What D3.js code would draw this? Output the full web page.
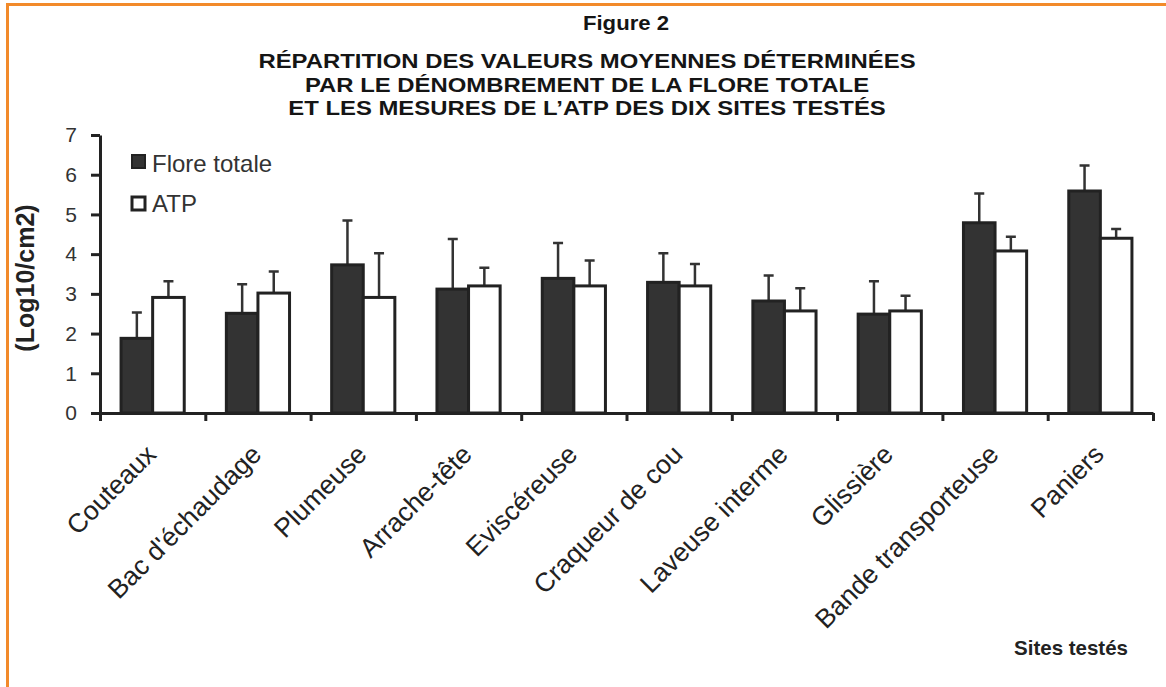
<!DOCTYPE html>
<html><head><meta charset="utf-8">
<script src="https://cdn.jsdelivr.net/npm/d3@7"></script>
<style>body{margin:0;background:#fff}svg{display:block}</style>
</head><body><svg id="c" width="1166" height="687"></svg>
<script>
const categories = ["Couteaux","Bac d'échaudage","Plumeuse","Arrache-tête","Eviscéreuse","Craqueur de cou","Laveuse interme","Glissière","Bande transporteuse","Paniers"];
const series = ["Flore totale","ATP"];
const floreValues = [1.88, 2.51, 3.73, 3.12, 3.39, 3.29, 2.82, 2.49, 4.79, 5.59];
const floreErrors = [0.65, 0.73, 1.12, 1.26, 0.89, 0.73, 0.64, 0.83, 0.74, 0.64];
const atpValues = [2.91, 3.02, 2.91, 3.20, 3.20, 3.20, 2.57, 2.57, 4.08, 4.40];
const atpErrors = [0.41, 0.54, 1.11, 0.46, 0.64, 0.55, 0.57, 0.38, 0.36, 0.23];
const yTicks = [0,1,2,3,4,5,6,7];
const titleLines = ["RÉPARTITION DES VALEURS MOYENNES DÉTERMINÉES","PAR LE DÉNOMBREMENT DE LA FLORE TOTALE","ET LES MESURES DE L’ATP DES DIX SITES TESTÉS"];
const figureLabel = "Figure 2";
const yTitle = "(Log10/cm2)";
const xTitle = "Sites testés";

const FONT = "Liberation Sans, Arial, Helvetica, sans-serif";
const svg = d3.select("#c").style("font-family", FONT);

svg.append("path").attr("d","M7.5,687 V4.5 H1166").attr("fill","none")
  .attr("stroke","#f28a2a").attr("stroke-width",3);

const x0 = d3.scaleBand().domain(categories).range([100,1153]).paddingInner(0.4).paddingOuter(0.2);
const x1 = d3.scaleBand().domain(series).range([0, x0.bandwidth()]);
const xb = d3.scaleLinear().domain([0, categories.length]).range([100,1153]);
const y = d3.scaleLinear().domain([0,7]).range([413,135]);

// title (slightly wide bold face, as in the original print)
svg.append("g").attr("transform","translate(626,30) scale(1.08,1)")
  .append("text").attr("text-anchor","middle")
  .attr("font-weight","bold").attr("font-size",20.5).attr("fill","#151515").text(figureLabel);
titleLines.forEach((t,i)=>{
  svg.append("g").attr("transform",`translate(587,${68+i*23.5}) scale(1.165,1)`)
    .append("text").attr("text-anchor","middle")
    .attr("font-weight","bold").attr("font-size",20.5).attr("fill","#151515").text(t);
});

// bars
const rows = categories.map((c,i)=>({c, vals:[
  {s:series[0], v:floreValues[i], e:floreErrors[i]},
  {s:series[1], v:atpValues[i], e:atpErrors[i]}]}));
const fills = {"Flore totale":"#333333","ATP":"#ffffff"};

const g = svg.selectAll("g.grp").data(rows).join("g").attr("class","grp")
  .attr("transform", d=>`translate(${x0(d.c)},0)`);
g.selectAll("path.err").data(d=>d.vals).join("path").attr("class","err")
  .attr("d", d=>{const cx=x1(d.s)+x1.bandwidth()/2; const t=y(d.v+d.e);
     return `M${cx},${y(d.v)}V${t}M${cx-5},${t}H${cx+5}`;})
  .attr("stroke","#333").attr("stroke-width",2.5).attr("fill","none");
g.selectAll("rect").data(d=>d.vals).join("rect")
  .attr("x", d=>x1(d.s)).attr("width", x1.bandwidth())
  .attr("y", d=>y(d.v)).attr("height", d=>y(0)-y(d.v))
  .attr("fill", d=>fills[d.s]).attr("stroke","#222").attr("stroke-width",3);

// y axis
const ya = svg.append("g").attr("transform","translate(100,0)")
  .call(d3.axisLeft(y).tickValues(yTicks).tickFormat(d3.format("d")).tickSize(9).tickSizeOuter(0).tickPadding(14));
ya.select(".domain").attr("stroke","#222").attr("stroke-width",3);
ya.selectAll(".tick line").attr("stroke","#222").attr("stroke-width",3);
ya.selectAll(".tick text").attr("font-size",21).attr("fill","#333").attr("font-family",FONT);

// x axis
const xa = svg.append("g").attr("transform","translate(0,413)")
  .call(d3.axisBottom(xb).tickValues(d3.range(categories.length+1)).tickSize(8).tickSizeOuter(0).tickFormat(""));
xa.select(".domain").attr("stroke","#222").attr("stroke-width",3);
xa.selectAll(".tick line").attr("stroke","#222").attr("stroke-width",3);

// category labels
svg.selectAll("text.cat").data(categories).join("text").attr("class","cat")
  .attr("transform", d=>`translate(${x0(d)+x0.bandwidth()/2+5},456) rotate(-45)`)
  .attr("text-anchor","end").attr("font-size",26.5).attr("fill","#222").text(d=>d);

// y title
svg.append("text").attr("transform","translate(25,278) rotate(-90)").attr("dy","0.35em")
  .attr("text-anchor","middle").attr("font-weight","bold").attr("font-size",25).attr("fill","#222").text(yTitle);

// x title
svg.append("text").attr("x",1128).attr("y",655).attr("text-anchor","end")
  .attr("font-weight","bold").attr("font-size",20.5).attr("fill","#222").text(xTitle);

// legend
const leg = svg.append("g");
series.forEach((s,i)=>{
  leg.append("rect").attr("x",132).attr("y",155+i*42).attr("width",13).attr("height",13)
    .attr("fill",fills[s]).attr("stroke","#222").attr("stroke-width", i? 3:2);
  leg.append("text").attr("x",152).attr("y",172+i*40).attr("font-size",24).attr("fill","#333").text(s);
});
</script></body></html>
